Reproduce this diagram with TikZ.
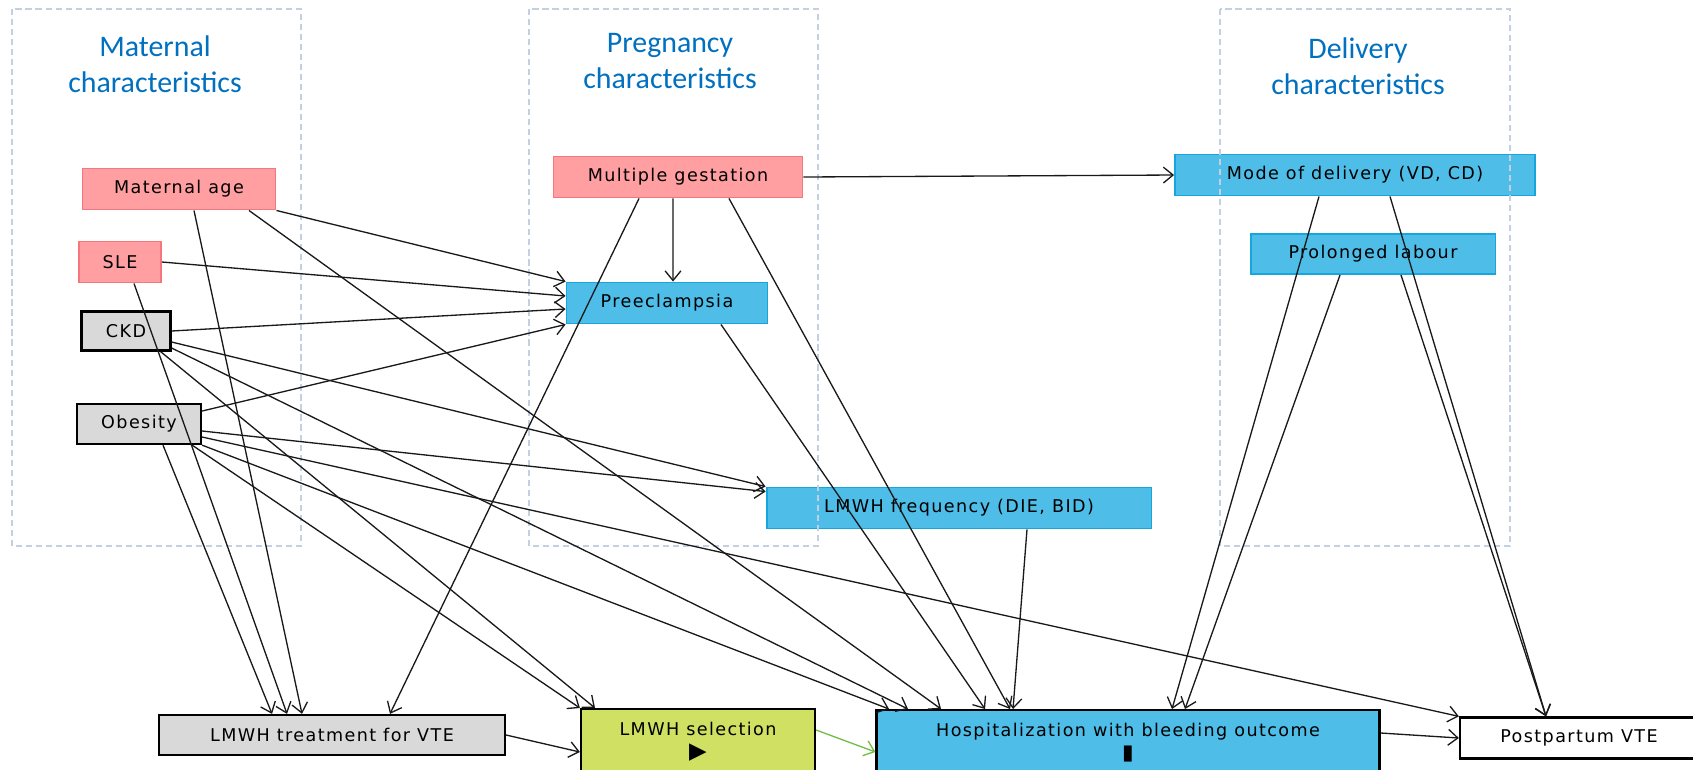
\documentclass[tikz,border=0pt]{standalone}
\usepackage{fontspec}
\setmainfont{DejaVu Sans}[LetterSpace=8]
\newfontfamily\headfont{Carlito}
\usepackage{tikz}
\usetikzlibrary{arrows.meta}

\definecolor{riskpink}{RGB}{255,159,161}
\definecolor{riskpinkline}{RGB}{246,118,124}
\definecolor{medblue}{RGB}{78,190,233}
\definecolor{medblueline}{RGB}{22,166,222}
\definecolor{boxgray}{RGB}{217,217,217}
\definecolor{selgreen}{RGB}{207,224,99}
\definecolor{headblue}{RGB}{0,112,192}
\definecolor{framegray}{RGB}{196,208,226}
\definecolor{linkgreen}{RGB}{112,190,72}

\begin{document}
\begin{tikzpicture}[x=0.02cm, y=-0.02cm,
    >={Straight Barb[length=5.5pt,width=9pt]},
    var/.style={draw, rectangle, line width=1.1pt, inner sep=0pt, font=\fontsize{10}{13}\selectfont},
    pinkvar/.style={var, draw=riskpinkline, fill=riskpink},
    bluevar/.style={var, draw=medblueline, fill=medblue},
    blackvar/.style={var, draw=black, line width=1.3pt},
    grayvar/.style={blackvar, fill=boxgray},
    head/.style={text=headblue, align=center, font=\headfont\fontsize{17}{20.5}\selectfont},
    group/.style={draw=framegray, line width=0.8pt, dash pattern=on 3.5pt off 2.2pt},
    link/.style={->, line width=0.75pt, black!90}]
        \useasboundingbox (0,0) rectangle (1693,769);
        \clip (0,0) rectangle (1693,769);
        \fill[white] (0,0) rectangle (1693,769);

        % Headings
        \node[head] (mathead) at (155,64) {Maternal\\characteristics};
        \node[head] (preghead) at (670,61) {Pregnancy\\characteristics};
        \node[head] (delhead) at (1358,66) {Delivery\\characteristics};

        % Maternal characteristics
        \node[pinkvar, minimum width=3.86cm, minimum height=0.82cm] (mage) at (179,189) {Maternal age};
        \node[pinkvar, minimum width=1.64cm, minimum height=0.82cm] (sle) at (120,262) {SLE};
        \node[grayvar, minimum width=1.78cm, minimum height=0.78cm] (ckd) at (126,331) {CKD};
        \node[grayvar, minimum width=2.48cm, minimum height=0.8cm] (obes) at (139,424) {Obesity};

        % Pregnancy characteristics
        \node[pinkvar, minimum width=4.98cm, minimum height=0.82cm] (multi) at (678,177) {Multiple gestation};
        \node[bluevar, minimum width=4.02cm, minimum height=0.82cm] (preec) at (667,303) {Preeclampsia};
        \node[bluevar, minimum width=7.7cm, minimum height=0.82cm] (freq) at (959,508) {LMWH frequency (DIE, BID)};

        % Delivery characteristics
        \node[bluevar, minimum width=7.2cm, minimum height=0.82cm] (mode) at (1355,175) {Mode of delivery (VD, CD)};
        \node[bluevar, minimum width=4.9cm, minimum height=0.8cm] (prol) at (1373,254) {Prolonged labour};

        % Treatment and outcomes
        \node[grayvar, minimum width=6.92cm, minimum height=0.8cm] (treat) at (332,735) {LMWH treatment for VTE};
        \node[blackvar, fill=selgreen, minimum width=4.68cm, anchor=north, align=center, inner ysep=7.4pt, text depth=40pt] (sel) at (698,708) {LMWH selection\\{\fontsize{13}{13}\selectfont ▶}};
        \node[blackvar, fill=medblue, minimum width=10.06cm, anchor=north, align=center, inner ysep=7.4pt, text depth=40pt] (hosp) at (1128,709) {Hospitalization with bleeding outcome\\{\fontsize{12}{12}\selectfont ▮}};
        \node[blackvar, fill=white, minimum width=4.76cm, minimum height=0.82cm] (post) at (1579,738) {Postpartum VTE};

        % Group frames
        \draw[group] (12,9) rectangle (301,546);
        \draw[group] (529,9) rectangle (818,546);
        \draw[group] (1220,9) rectangle (1510,546);

        % Into preeclampsia
        \draw[link] (mage.south east) -- (preec.north west);
        \draw[link] (sle.east) -- ([yshift=0.14cm]preec.west);
        \draw[link] (ckd.east) -- ([yshift=-0.12cm]preec.west);
        \draw[link] ([yshift=0.26cm]obes.east) -- (preec.south west);
        \draw[link] ([xshift=-0.1cm]multi.south) -- ([xshift=0.12cm]preec.north);

        % Maternal links
        \draw[link] ([xshift=0.3cm]mage.south) -- ([xshift=-0.6cm]treat.north);
        \draw[link] ([xshift=1.4cm]mage.south) -- ([xshift=-3.74cm]hosp.north);
        \draw[link] ([xshift=0.28cm]sle.south) -- ([xshift=-0.9cm]treat.north);
        \draw[link] ([yshift=-0.22cm]ckd.east) -- (freq.north west);
        \draw[link] ([yshift=-0.34cm]ckd.east) -- ([xshift=-4.4cm]hosp.north);
        \draw[link] ([xshift=-0.22cm]ckd.south east) -- ([xshift=-2.06cm]sel.north);
        \draw[link] ([yshift=-0.14cm]obes.east) -- ([yshift=-0.1cm]freq.north west);
        \draw[link] ([yshift=-0.26cm]obes.east) -- (post.north west);
        \draw[link] (obes.south east) -- ([xshift=-4.78cm]hosp.north);
        \draw[link] ([xshift=-0.2cm]obes.south east) -- (sel.north west);
        \draw[link] ([xshift=0.48cm]obes.south) -- ([xshift=-1.2cm]treat.north);

        % Pregnancy links
        \draw[link] ([xshift=-0.78cm]multi.south) -- ([xshift=1.16cm]treat.north);
        \draw[link] ([xshift=1.02cm]multi.south) -- ([xshift=-2.36cm]hosp.north);
        \draw[link] (multi.east) -- (mode.west);
        \draw[link] ([xshift=1.08cm]preec.south) -- ([xshift=-2.86cm]hosp.north);
        \draw[link] ([xshift=1.36cm]freq.south) -- ([xshift=-2.3cm]hosp.north);

        % Delivery links
        \draw[link] ([xshift=-0.72cm]mode.south) -- ([xshift=0.88cm]hosp.north);
        \draw[link] ([xshift=0.7cm]mode.south) -- ([xshift=-0.66cm]post.north);
        \draw[link] ([xshift=-0.66cm]prol.south) -- ([xshift=1.14cm]hosp.north);
        \draw[link] ([xshift=0.56cm]prol.south) -- ([xshift=-0.66cm]post.north);

        % Bottom row
        \draw[link] (treat.east) -- ([yshift=-0.88cm]sel.north west);
        \draw[link, linkgreen] ([yshift=-0.44cm]sel.north east) -- ([yshift=-0.86cm]hosp.north west);
        \draw[link] ([yshift=-0.48cm]hosp.north east) -- (post.west);
    \end{tikzpicture}
\end{document}
